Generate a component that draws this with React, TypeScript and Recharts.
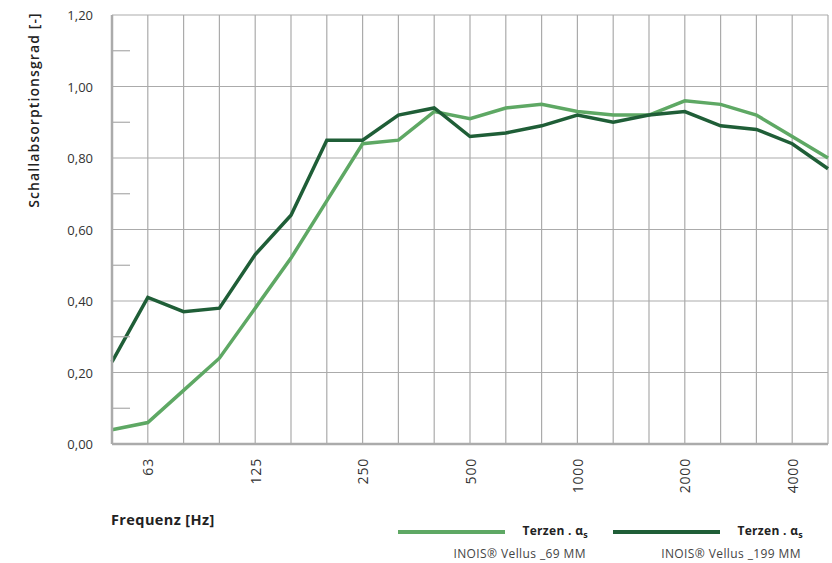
import React from 'react';
import { LineChart, Line, XAxis, YAxis, CartesianGrid } from 'recharts';

const frequencies = ['50', '63', '80', '100', '125', '160', '200', '250', '315', '400', '500', '630', '800', '1000', '1250', '1600', '2000', '2500', '3150', '4000', '5000'];
const vellus69 = [0.04, 0.06, 0.15, 0.24, 0.38, 0.52, 0.68, 0.84, 0.85, 0.93, 0.91, 0.94, 0.95, 0.93, 0.92, 0.92, 0.96, 0.95, 0.92, 0.86, 0.8];
const vellus199 = [0.23, 0.41, 0.37, 0.38, 0.53, 0.64, 0.85, 0.85, 0.92, 0.94, 0.86, 0.87, 0.89, 0.92, 0.9, 0.92, 0.93, 0.89, 0.88, 0.84, 0.77];
const labeledFrequencies = ['63', '125', '250', '500', '1000', '2000', '4000'];
const yTicks = [0, 0.2, 0.4, 0.6, 0.8, 1.0, 1.2];
const yMinorTicks = [0.1, 0.3, 0.5, 0.7, 0.9, 1.1];
const allYTicks = [...yTicks, ...yMinorTicks].sort((p, q) => p - q);

const data = frequencies.map((f, i) => ({ f, a: vellus69[i], b: vellus199[i] }));

const FONT = '"Open Sans", sans-serif';
const LIGHT = '#5ea864';
const DARK = '#1f5e37';
const GRID = '#ababab';
const TICK_MARGIN = 19;

const XTick = (props: any) => {
  const { x, y, payload } = props;
  if (!labeledFrequencies.includes(payload.value)) return <g />;
  return (
    <text
      x={x}
      y={y}
      transform={`rotate(-90, ${x}, ${y})`}
      textAnchor="end"
      dominantBaseline="central"
      fontFamily={FONT}
      fontSize={14}
      letterSpacing={0.8}
      fill="#333"
    >
      {payload.value}
    </text>
  );
};

const YTick = (props: any) => {
  const { x, y, payload } = props;
  const v = Number(payload.value);
  const isMinor = yMinorTicks.some((m) => Math.abs(m - v) < 1e-6);
  if (isMinor) {
    return <line x1={x + TICK_MARGIN} x2={x + TICK_MARGIN + 18} y1={y} y2={y} stroke={GRID} strokeWidth={1.2} />;
  }
  return (
    <text x={x} y={y} textAnchor="end" dominantBaseline="central" fontFamily={FONT} fontSize={13} fill="#333">
      {v.toFixed(2).replace('.', ',')}
    </text>
  );
};

const LegendItem = ({ color, left, name }: { color: string; left: number; name: string }) => (
  <div style={{ position: 'absolute', left, top: 520, width: 190, height: 40, fontFamily: FONT }}>
    <div style={{ position: 'absolute', left: 0, top: 10, width: 107, height: 4, background: color }} />
    <div style={{ position: 'absolute', right: 0, top: 2, fontSize: 12, fontWeight: 700, color: '#222', whiteSpace: 'nowrap', letterSpacing: 0.3 }}>
      Terzen . α<sub style={{ fontSize: 9 }}>s</sub>
    </div>
    <div style={{ position: 'absolute', right: 2, top: 25, fontSize: 12, color: '#444', whiteSpace: 'nowrap', letterSpacing: 0.4 }}>{name}</div>
  </div>
);

export default function App() {
  return (
    <div style={{ position: 'absolute', left: 0, top: 0, width: 832, height: 563, background: '#fff' }}>
      <LineChart width={832} height={563} data={data} margin={{ top: 15, right: 4, left: 0, bottom: 59 }}>
        <CartesianGrid yAxisId="main" stroke={GRID} strokeWidth={1.2} horizontalValues={yTicks} />
        <XAxis
          dataKey="f"
          interval={0}
          tick={<XTick />}
          tickLine={false}
          axisLine={{ stroke: GRID, strokeWidth: 2.5 }}
          tickSize={0}
          tickMargin={14}
          height={60}
        />
        <YAxis
          yAxisId="main"
          domain={[0, 1.2]}
          ticks={allYTicks}
          interval={0}
          tick={<YTick />}
          tickLine={false}
          tickSize={0}
          tickMargin={TICK_MARGIN}
          axisLine={{ stroke: GRID, strokeWidth: 2.5 }}
          width={112}
        />
        <Line yAxisId="main" type="linear" dataKey="a" stroke={LIGHT} strokeWidth={3.5} dot={false} isAnimationActive={false} />
        <Line yAxisId="main" type="linear" dataKey="b" stroke={DARK} strokeWidth={3.5} dot={false} isAnimationActive={false} />
      </LineChart>
      <div
        style={{
          position: 'absolute',
          left: 33,
          top: 110,
          transform: 'translate(-50%, -50%) rotate(-90deg)',
          fontFamily: FONT,
          fontSize: 14,
          fontWeight: 600,
          color: '#222',
          whiteSpace: 'nowrap',
          letterSpacing: 1.1,
        }}
      >
        Schallabsorptionsgrad [-]
      </div>
      <div style={{ position: 'absolute', left: 111, top: 510, fontFamily: FONT, fontSize: 14.5, fontWeight: 700, color: '#222', letterSpacing: 0.4 }}>
        Frequenz [Hz]
      </div>
      <LegendItem color={LIGHT} left={398} name="INOIS® Vellus _69 MM" />
      <LegendItem color={DARK} left={613} name="INOIS® Vellus _199 MM" />
    </div>
  );
}
